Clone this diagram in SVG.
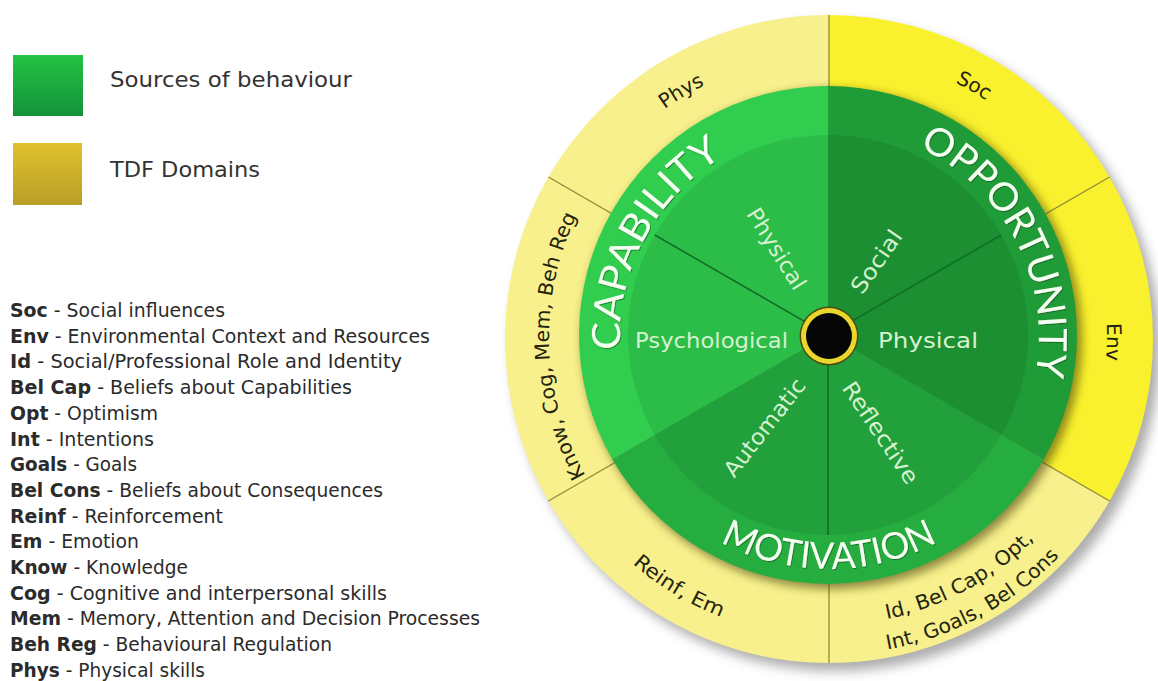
<svg xmlns="http://www.w3.org/2000/svg" width="1158" height="681" viewBox="0 0 1158 681">
<defs>
<style>
.leg{font-family:"DejaVu Sans","Liberation Sans",sans-serif;font-size:19px;fill:#2b2b2b}
.b{font-weight:bold}
.head{font-family:"DejaVu Sans","Liberation Sans",sans-serif;font-size:22px;fill:#333}
.big{font-family:Lato,"Open Sans",sans-serif;font-size:39px;fill:#f4fff2;text-anchor:middle;filter:url(#txtsh)}
.in{font-family:"DejaVu Sans","Liberation Sans",sans-serif;font-size:22px;fill:#d6f2d0;text-anchor:middle}
.ring{font-family:"DejaVu Sans","Liberation Sans",sans-serif;font-size:20px;fill:#24240f;text-anchor:middle}
.yd{stroke:#8f8a3a;stroke-width:1.3}
.sd{stroke:#106f25;stroke-width:1.6}
</style>
<linearGradient id="gLeg" x1="0" y1="0" x2="0" y2="1"><stop offset="0" stop-color="#22c244"/><stop offset="1" stop-color="#15923a"/></linearGradient>
<linearGradient id="yLeg" x1="0" y1="0" x2="0" y2="1"><stop offset="0" stop-color="#e0c22c"/><stop offset="1" stop-color="#b89e26"/></linearGradient>
<filter id="blur6" x="-20%" y="-20%" width="140%" height="140%"><feGaussianBlur stdDeviation="6"/></filter>
<filter id="blur5" x="-20%" y="-20%" width="140%" height="140%"><feGaussianBlur stdDeviation="5"/></filter>
<filter id="txtsh" x="-10%" y="-10%" width="120%" height="130%"><feDropShadow dx="0.8" dy="1" stdDeviation="0.7" flood-color="#0b4a18" flood-opacity="0.6"/></filter>
<path id="pCap" d="M624.6,380.5 A209 209 0 0 1 750.7,143.2"/>
<path id="pOpp" d="M911,143.7 A210 210 0 0 1 1033.6,384.2"/>
<path id="pMot" d="M679.9,514.7 A232 232 0 0 0 978.1,514.7"/>
<path id="pPhys" d="M610.6,160.2 A281 281 0 0 1 775.4,61.2"/>
<path id="pSoc" d="M878.3,57.3 A284 284 0 0 1 1046.6,154.4"/>
<path id="pEnv" d="M1091.9,246.5 A278 278 0 0 1 1088.5,436.6"/>
<path id="pKnow" d="M614.5,517 A280 280 0 0 1 602.5,172.4"/>
<path id="pReinf" d="M595.9,525.8 A300 300 0 0 0 771.8,631.5"/>
<path id="pId1" d="M871.6,621.8 A288 288 0 0 0 1044.7,527.8"/>
<path id="pId2" d="M876,651.5 A318 318 0 0 0 1067.2,547.7"/>
</defs>
<rect width="1158" height="681" fill="#ffffff"/>

<g id="legend-sources">
<rect x="13" y="55" width="70" height="61" fill="url(#gLeg)"/>
<text class="head" x="110" y="87" textLength="242" lengthAdjust="spacingAndGlyphs">Sources of behaviour</text>
</g>
<g id="legend-tdf">
<rect x="13" y="143" width="69" height="62" fill="url(#yLeg)"/>
<text class="head" x="110" y="177" textLength="150" lengthAdjust="spacingAndGlyphs">TDF Domains</text>
</g>

<g id="abbreviations" class="leg">
<text x="10" y="317" textLength="215" lengthAdjust="spacingAndGlyphs"><tspan class="b">Soc</tspan> - Social influences</text>
<text x="10" y="342.7" textLength="420" lengthAdjust="spacingAndGlyphs"><tspan class="b">Env</tspan> - Environmental Context and Resources</text>
<text x="10" y="368.4" textLength="392" lengthAdjust="spacingAndGlyphs"><tspan class="b">Id</tspan> - Social/Professional Role and Identity</text>
<text x="10" y="394.1" textLength="342" lengthAdjust="spacingAndGlyphs"><tspan class="b">Bel Cap</tspan> - Beliefs about Capabilities</text>
<text x="10" y="419.8" textLength="148" lengthAdjust="spacingAndGlyphs"><tspan class="b">Opt</tspan> - Optimism</text>
<text x="10" y="445.5" textLength="144" lengthAdjust="spacingAndGlyphs"><tspan class="b">Int</tspan> - Intentions</text>
<text x="10" y="471.2" textLength="127" lengthAdjust="spacingAndGlyphs"><tspan class="b">Goals</tspan> - Goals</text>
<text x="10" y="496.9" textLength="373" lengthAdjust="spacingAndGlyphs"><tspan class="b">Bel Cons</tspan> - Beliefs about Consequences</text>
<text x="10" y="522.6" textLength="213" lengthAdjust="spacingAndGlyphs"><tspan class="b">Reinf</tspan> - Reinforcement</text>
<text x="10" y="548.3" textLength="129" lengthAdjust="spacingAndGlyphs"><tspan class="b">Em</tspan> - Emotion</text>
<text x="10" y="574" textLength="178" lengthAdjust="spacingAndGlyphs"><tspan class="b">Know</tspan> - Knowledge</text>
<text x="10" y="599.7" textLength="377" lengthAdjust="spacingAndGlyphs"><tspan class="b">Cog</tspan> - Cognitive and interpersonal skills</text>
<text x="10" y="625.4" textLength="470" lengthAdjust="spacingAndGlyphs"><tspan class="b">Mem</tspan> - Memory, Attention and Decision Processes</text>
<text x="10" y="651.1" textLength="322" lengthAdjust="spacingAndGlyphs"><tspan class="b">Beh Reg</tspan> - Behavioural Regulation</text>
<text x="10" y="676.8" textLength="195" lengthAdjust="spacingAndGlyphs"><tspan class="b">Phys</tspan> - Physical skills</text>
</g>

<g id="tdf-ring">
<circle cx="836" cy="347" r="324" fill="#808080" opacity="0.65" filter="url(#blur6)"/>
<path d="M829,339 L1109.6,501 A324 324 0 1 1 829,15 Z" fill="#f7f08c"/>
<path d="M829,339 L829,15 A324 324 0 0 1 1109.6,501 Z" fill="#faf12e"/>
</g>

<g id="ring-dividers">
<line class="yd" x1="829" y1="339" x2="829" y2="15"/>
<line class="yd" x1="829" y1="339" x2="1109.6" y2="177"/>
<line class="yd" x1="829" y1="339" x2="1109.6" y2="501"/>
<line class="yd" x1="829" y1="339" x2="829" y2="663"/>
<line class="yd" x1="829" y1="339" x2="548.4" y2="501"/>
<line class="yd" x1="829" y1="339" x2="548.4" y2="177"/>
</g>

<g id="ring-labels" class="ring">
<text><textPath href="#pPhys" startOffset="50%">Phys</textPath></text>
<text><textPath href="#pSoc" startOffset="50%">Soc</textPath></text>
<text><textPath href="#pEnv" startOffset="50%">Env</textPath></text>
<text><textPath href="#pKnow" startOffset="50%" textLength="270" lengthAdjust="spacingAndGlyphs">Know,  Cog,  Mem,  Beh Reg</textPath></text>
<text><textPath href="#pReinf" startOffset="50%" textLength="104" lengthAdjust="spacingAndGlyphs">Reinf,  Em</textPath></text>
<text><textPath href="#pId1" startOffset="50%" textLength="170" lengthAdjust="spacingAndGlyphs">Id, Bel Cap, Opt,</textPath></text>
<text><textPath href="#pId2" startOffset="50%" textLength="199" lengthAdjust="spacingAndGlyphs">Int, Goals, Bel Cons</textPath></text>
</g>

<circle cx="832" cy="339" r="250" fill="#4a4410" opacity="0.6" filter="url(#blur5)"/>

<g id="capability">
<path d="M828,335 L612.4,459.5 A249 249 0 0 1 828,86 Z" fill="#31cd4f"/>
<path d="M828,335 L654.8,235 A200 200 0 0 1 828,135 Z" fill="#2bbd48"/>
<path d="M828,335 L654.8,435 A200 200 0 0 1 654.8,235 Z" fill="#2bbd48"/>
<text class="big"><textPath href="#pCap" startOffset="50%" textLength="230" lengthAdjust="spacingAndGlyphs">CAPABILITY</textPath></text>
<text class="in" transform="translate(776,249) rotate(58)" y="7" textLength="92" lengthAdjust="spacingAndGlyphs">Physical</text>
<text class="in" x="711.5" y="348" textLength="153" lengthAdjust="spacingAndGlyphs">Psychological</text>
</g>

<g id="opportunity">
<path d="M828,335 L828,86 A249 249 0 0 1 1043.6,459.5 Z" fill="#1f9b37"/>
<path d="M828,335 L828,135 A200 200 0 0 1 1001.2,235 Z" fill="#1b8f32"/>
<path d="M828,335 L1001.2,235 A200 200 0 0 1 1001.2,435 Z" fill="#1b8f32"/>
<text class="big"><textPath href="#pOpp" startOffset="50%" textLength="276" lengthAdjust="spacingAndGlyphs">OPPORTUNITY</textPath></text>
<text class="in" transform="translate(877,262) rotate(-55)" y="7" textLength="72" lengthAdjust="spacingAndGlyphs">Social</text>
<text class="in" x="928" y="348" textLength="100" lengthAdjust="spacingAndGlyphs">Physical</text>
</g>

<g id="motivation">
<path d="M828,335 L1043.6,459.5 A249 249 0 0 1 612.4,459.5 Z" fill="#25ad40"/>
<path d="M828,335 L1001.2,435 A200 200 0 0 1 828,535 Z" fill="#21a03b"/>
<path d="M828,335 L828,535 A200 200 0 0 1 654.8,435 Z" fill="#21a03b"/>
<text class="big" style="font-size:37px"><textPath href="#pMot" startOffset="50%" textLength="226" lengthAdjust="spacingAndGlyphs">MOTIVATION</textPath></text>
<text class="in" transform="translate(880,433) rotate(56)" y="7" textLength="118" lengthAdjust="spacingAndGlyphs">Reflective</text>
<text class="in" transform="translate(765,428) rotate(-52)" y="7" textLength="118" lengthAdjust="spacingAndGlyphs">Automatic</text>
</g>

<g id="sector-lines">
<line class="sd" x1="828" y1="335" x2="654.8" y2="235"/>
<line class="sd" x1="828" y1="335" x2="1001.2" y2="235"/>
<line class="sd" x1="828" y1="335" x2="828" y2="535"/>
</g>

<g id="hub">
<circle cx="829" cy="336" r="29.5" fill="#4b4a12"/>
<circle cx="829" cy="336" r="28" fill="#e9d72e"/>
<circle cx="829" cy="336" r="23" fill="#060606"/>
</g>
</svg>
